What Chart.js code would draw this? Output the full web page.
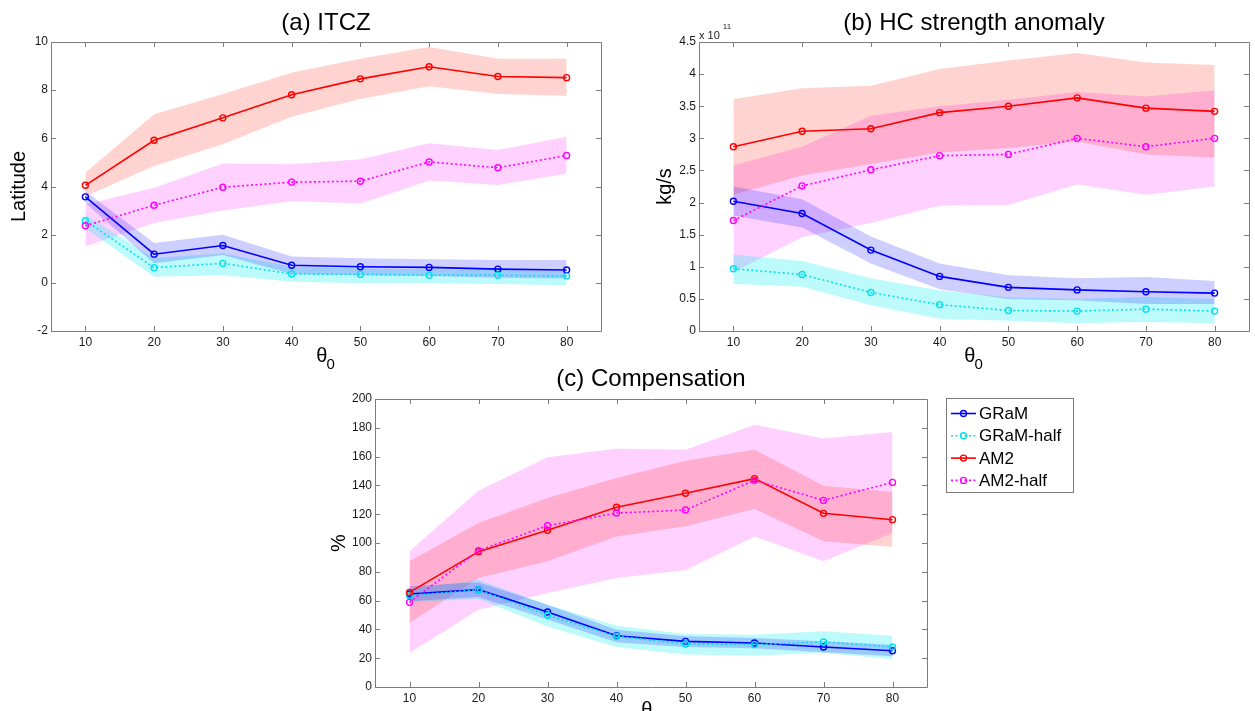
<!DOCTYPE html>
<html><head><meta charset="utf-8">
<script src="https://cdn.jsdelivr.net/npm/chart.js@4.4.1/dist/chart.umd.min.js"></script>
<style>
html,body{margin:0;padding:0;background:#fff;}
#wrap{position:relative;width:1255px;height:711px;overflow:hidden;background:#fff;}
canvas{position:absolute;}
</style></head><body>
<div id="wrap">
<canvas id="ca" width="640" height="380" style="left:0px;top:0px"></canvas>
<canvas id="cb" width="615" height="380" style="left:640px;top:0px"></canvas>
<canvas id="cc" width="955" height="351" style="left:300px;top:360px"></canvas>
</div>
<script>
// ---------- data ----------
const theta = [10, 20, 30, 40, 50, 60, 70, 80];
const seriesNames = ['GRaM', 'GRaM-half', 'AM2', 'AM2-half'];

// (a) ITCZ latitude
const itczGram       = [3.57, 1.19, 1.55, 0.73, 0.67, 0.64, 0.57, 0.53];
const itczGramHi     = [3.80, 1.65, 2.00, 1.09, 1.02, 0.98, 0.95, 0.95];
const itczGramLo     = [3.32, 0.81, 1.16, 0.37, 0.31, 0.28, 0.21, 0.18];
const itczGramHalf   = [2.58, 0.63, 0.81, 0.37, 0.35, 0.32, 0.32, 0.28];
const itczGramHalfHi = [2.83, 1.02, 1.23, 0.67, 0.60, 0.56, 0.53, 0.50];
const itczGramHalfLo = [2.27, 0.25, 0.32, 0.05, -0.02, -0.02, -0.05, -0.10];
const itczAm2        = [4.05, 5.92, 6.85, 7.81, 8.47, 8.97, 8.57, 8.52];
const itczAm2Hi      = [4.57, 7.00, 7.84, 8.72, 9.30, 9.79, 9.30, 9.30];
const itczAm2Lo      = [3.60, 4.85, 5.75, 6.90, 7.63, 8.16, 7.84, 7.77];
const itczAm2Half    = [2.37, 3.22, 3.97, 4.18, 4.22, 5.02, 4.78, 5.29];
const itczAm2HalfHi  = [3.25, 3.95, 4.95, 4.92, 5.13, 5.80, 5.52, 6.07];
const itczAm2HalfLo  = [1.51, 2.48, 3.00, 3.39, 3.29, 4.25, 4.06, 4.53];
const itczTicks      = [-2, 0, 2, 4, 6, 8, 10];

// (b) HC strength anomaly (x 10^11 kg/s)
const hcGram       = [2.02, 1.83, 1.26, 0.85, 0.68, 0.64, 0.61, 0.59];
const hcGramHi     = [2.25, 2.05, 1.47, 1.05, 0.87, 0.82, 0.84, 0.78];
const hcGramLo     = [1.80, 1.61, 1.05, 0.65, 0.50, 0.48, 0.42, 0.42];
const hcGramHalf   = [0.97, 0.88, 0.60, 0.41, 0.32, 0.31, 0.34, 0.31];
const hcGramHalfHi = [1.19, 1.09, 0.82, 0.63, 0.52, 0.50, 0.53, 0.50];
const hcGramHalfLo = [0.73, 0.69, 0.40, 0.19, 0.16, 0.12, 0.14, 0.12];
const hcAm2        = [2.87, 3.11, 3.15, 3.40, 3.50, 3.63, 3.47, 3.42];
const hcAm2Hi      = [3.61, 3.78, 3.82, 4.08, 4.21, 4.33, 4.18, 4.14];
const hcAm2Lo      = [2.12, 2.42, 2.60, 2.78, 2.85, 2.95, 2.75, 2.70];
const hcAm2Half    = [1.72, 2.26, 2.51, 2.73, 2.75, 3.00, 2.87, 3.00];
const hcAm2HalfHi  = [2.58, 2.87, 3.35, 3.50, 3.60, 3.72, 3.65, 3.75];
const hcAm2HalfLo  = [0.92, 1.46, 1.68, 1.95, 1.96, 2.28, 2.12, 2.25];
const hcTicks      = [0, 0.5, 1, 1.5, 2, 2.5, 3, 3.5, 4, 4.5];
const hcTickLabels = ['0', '0.5', '1', '1.5', '2', '2.5', '3', '3.5', '4', '4.5'];

// (c) Compensation (%)
const compGram       = [64.6, 67.6, 52.1, 35.6, 31.7, 30.6, 27.8, 25.2];
const compGramHi     = [69.9, 72.7, 57.2, 39.8, 35.2, 34.0, 31.7, 29.4];
const compGramLo     = [59.5, 62.5, 46.8, 31.0, 27.8, 26.9, 24.1, 21.3];
const compGramHalf   = [63.4, 67.6, 49.8, 35.2, 29.9, 29.4, 31.3, 27.8];
const compGramHalfHi = [68.0, 74.5, 57.2, 42.6, 36.8, 36.3, 38.7, 35.6];
const compGramHalfLo = [58.8, 61.1, 42.1, 27.8, 22.5, 21.8, 23.6, 19.4];
const compAm2        = [65.7, 94.0, 108.8, 124.8, 134.5, 144.7, 120.6, 116.2];
const compAm2Hi      = [87.3, 113.9, 131.3, 145.1, 157.2, 164.8, 139.8, 135.4];
const compAm2Lo      = [44.4, 75.7, 87.3, 104.6, 111.6, 123.6, 101.2, 97.2];
const compAm2Half    = [58.8, 94.7, 112.0, 120.8, 122.9, 143.5, 129.6, 142.1];
const compAm2HalfHi  = [94.2, 136.3, 159.5, 165.5, 164.8, 182.2, 172.5, 177.0];
const compAm2HalfLo  = [23.6, 53.7, 65.3, 75.7, 81.0, 104.6, 87.3, 106.9];
const compTicks      = [0, 20, 40, 60, 80, 100, 120, 140, 160, 180, 200];

// ---------- styles ----------
const styles = [
  {color: '#0000ff', band: 'rgba(30,30,255,0.22)', dash: []},
  {color: '#00e2ee', band: 'rgba(0,235,240,0.26)', dash: [2, 2.5]},
  {color: '#ff0000', band: 'rgba(255,20,0,0.19)', dash: []},
  {color: '#ff00ff', band: 'rgba(255,0,255,0.18)', dash: [2, 2.5]}
];
const FONT = "'Liberation Sans', Arial, sans-serif";
const TICKFONT = "'Liberation Sans Narrow', 'Liberation Sans', Arial, sans-serif";

function pts(arr) { return theta.map((t, i) => ({x: t, y: arr[i]})); }

function buildDatasets(groups) {
  const ds = [];
  groups.forEach((g, k) => {
    ds.push({label: seriesNames[k] + ' upper', data: pts(g[1]), fill: '+1',
      backgroundColor: styles[k].band, borderWidth: 0, borderColor: 'rgba(0,0,0,0)',
      pointRadius: 0, order: 10});
    ds.push({label: seriesNames[k] + ' lower', data: pts(g[2]), fill: false,
      borderWidth: 0, borderColor: 'rgba(0,0,0,0)', pointRadius: 0, order: 10});
  });
  groups.forEach((g, k) => {
    ds.push({label: seriesNames[k], data: pts(g[0]), fill: false,
      borderColor: styles[k].color, borderWidth: 1.6, borderDash: styles[k].dash,
      pointRadius: 3, pointBorderWidth: 1.4, pointBorderColor: styles[k].color,
      pointBackgroundColor: 'rgba(0,0,0,0)', pointStyle: 'circle', order: 4 - k,
      tension: 0, isLine: true});
  });
  return ds;
}

function drawRotated(ctx, text, bx, cy, font) {
  ctx.save();
  ctx.translate(bx, cy);
  ctx.rotate(-Math.PI / 2);
  ctx.font = font;
  ctx.textAlign = 'center';
  ctx.textBaseline = 'alphabetic';
  ctx.fillText(text, 0, 0);
  ctx.restore();
}

function makeDeco(spec) {
  return {
    id: 'deco',
    afterDraw(chart) {
      const ctx = chart.ctx;
      const a = chart.chartArea;
      const xs = chart.scales.x, ys = chart.scales.y;
      const L = Math.round(a.left), R = Math.round(a.right), T = Math.round(a.top), B = Math.round(a.bottom);
      ctx.save();
      ctx.strokeStyle = '#7c7c7c';
      ctx.lineWidth = 1;
      ctx.beginPath();
      ctx.rect(L + 0.5, T + 0.5, R - L, B - T);
      ctx.stroke();
      ctx.beginPath();
      xs.ticks.forEach(t => {
        const px = Math.round(xs.getPixelForValue(t.value)) + 0.5;
        ctx.moveTo(px, B); ctx.lineTo(px, B - 5);
        ctx.moveTo(px, T); ctx.lineTo(px, T + 5);
      });
      ys.ticks.forEach(t => {
        const py = Math.round(ys.getPixelForValue(t.value)) + 0.5;
        ctx.moveTo(L, py); ctx.lineTo(L + 5, py);
        ctx.moveTo(R, py); ctx.lineTo(R - 5, py);
      });
      ctx.stroke();

      ctx.fillStyle = '#000';
      const cx = (a.left + a.right) / 2;
      // title
      ctx.font = '24px ' + FONT;
      ctx.textAlign = 'center';
      ctx.textBaseline = 'alphabetic';
      ctx.fillText(spec.title, cx, spec.titleY);
      // y label
      drawRotated(ctx, spec.ylabel, spec.ylabelX, (a.top + a.bottom) / 2, '20px ' + FONT);
      // x label theta_0
      ctx.font = '20px ' + FONT;
      const w1 = ctx.measureText('θ').width;
      ctx.font = '15px ' + FONT;
      const w2 = ctx.measureText('0').width;
      const sx = cx - (w1 + w2) / 2;
      ctx.textAlign = 'left';
      ctx.font = '20px ' + FONT;
      ctx.fillText('θ', sx, spec.xlabelY);
      ctx.font = '15px ' + FONT;
      ctx.fillText('0', sx + w1 - 1, spec.xlabelY + 7);
      // exponent
      if (spec.exponent) {
        ctx.font = '11px ' + FONT;
        ctx.fillStyle = '#222';
        ctx.fillText('x 10', L, T - 3);
        const w = ctx.measureText('x 10').width;
        ctx.font = '8px ' + FONT;
        ctx.fillText(spec.exponent, L + w + 3, T - 13);
      }
      // legend
      if (spec.legend) {
        const lg = spec.legend;
        ctx.fillStyle = '#fff';
        ctx.fillRect(lg.x, lg.y, lg.w, lg.h);
        ctx.strokeStyle = '#7c7c7c';
        ctx.lineWidth = 1;
        ctx.strokeRect(lg.x + 0.5, lg.y + 0.5, lg.w, lg.h);
        const lines = chart.data.datasets.filter(d => d.isLine);
        lines.forEach((d, i) => {
          const yy = lg.y + 15.5 + i * 22.3;
          ctx.save();
          ctx.strokeStyle = d.borderColor;
          ctx.lineWidth = 1.6;
          ctx.setLineDash(d.borderDash);
          ctx.beginPath();
          ctx.moveTo(lg.x + 5, yy); ctx.lineTo(lg.x + 30, yy);
          ctx.stroke();
          ctx.setLineDash([]);
          ctx.lineWidth = 1.4;
          ctx.beginPath();
          ctx.arc(lg.x + 17.5, yy, 3, 0, Math.PI * 2);
          ctx.stroke();
          ctx.restore();
          ctx.fillStyle = '#000';
          ctx.font = '17px ' + FONT;
          ctx.textAlign = 'left';
          ctx.textBaseline = 'middle';
          ctx.fillText(d.label, lg.x + 33, yy + 1);
        });
      }
      ctx.restore();
    }
  };
}

function makeChart(id, groups, yMin, yMax, yTicks, yLabels, padding, spec) {
  const tickFont = {family: TICKFONT, size: 12, weight: 'normal'};
  return new Chart(document.getElementById(id), {
    type: 'line',
    data: {datasets: buildDatasets(groups)},
    options: {
      responsive: false,
      animation: false,
      events: [],
      layout: {padding: padding},
      plugins: {
        legend: {display: false},
        tooltip: {enabled: false},
        title: {display: false},
        filler: {drawTime: 'beforeDatasetsDraw', propagate: false}
      },
      scales: {
        x: {
          type: 'linear', min: 5, max: 85,
          afterBuildTicks: s => { s.ticks = theta.map(v => ({value: v})); },
          afterFit: s => { s.height = 20; },
          grid: {display: false, drawTicks: false, tickLength: 0},
          border: {display: false},
          ticks: {font: tickFont, color: '#1a1a1a', padding: 4, maxRotation: 0, autoSkip: false}
        },
        y: {
          type: 'linear', min: yMin, max: yMax,
          afterBuildTicks: s => { s.ticks = yTicks.map(v => ({value: v})); },
          afterFit: s => { s.width = 51; },
          grid: {display: false, drawTicks: false, tickLength: 0},
          border: {display: false},
          ticks: {font: tickFont, color: '#1a1a1a', padding: 3, autoSkip: false,
            callback: (v, i) => yLabels[i]}
        }
      }
    },
    plugins: [makeDeco(spec)]
  });
}

makeChart('ca', [
  [itczGram, itczGramHi, itczGramLo],
  [itczGramHalf, itczGramHalfHi, itczGramHalfLo],
  [itczAm2, itczAm2Hi, itczAm2Lo],
  [itczAm2Half, itczAm2HalfHi, itczAm2HalfLo]
], -2, 10, itczTicks, itczTicks.map(String),
  {left: 0, right: 39, top: 42, bottom: 29},
  {title: '(a) ITCZ', titleY: 30, ylabel: 'Latitude', ylabelX: 25, xlabelY: 362});

makeChart('cb', [
  [hcGram, hcGramHi, hcGramLo],
  [hcGramHalf, hcGramHalfHi, hcGramHalfLo],
  [hcAm2, hcAm2Hi, hcAm2Lo],
  [hcAm2Half, hcAm2HalfHi, hcAm2HalfLo]
], 0, 4.5, hcTicks, hcTickLabels,
  {left: 8, right: 6, top: 42, bottom: 29},
  {title: '(b) HC strength anomaly', titleY: 30, ylabel: 'kg/s', ylabelX: 31, xlabelY: 362, exponent: '11'});

makeChart('cc', [
  [compGram, compGramHi, compGramLo],
  [compGramHalf, compGramHalfHi, compGramHalfLo],
  [compAm2, compAm2Hi, compAm2Lo],
  [compAm2Half, compAm2HalfHi, compAm2HalfLo]
], 0, 200, compTicks, compTicks.map(String),
  {left: 24, right: 328, top: 39, bottom: 4},
  {title: '(c) Compensation', titleY: 26, ylabel: '%', ylabelX: 45, xlabelY: 356,
   legend: {x: 646, y: 38, w: 127, h: 94}});
</script>
</body></html>
